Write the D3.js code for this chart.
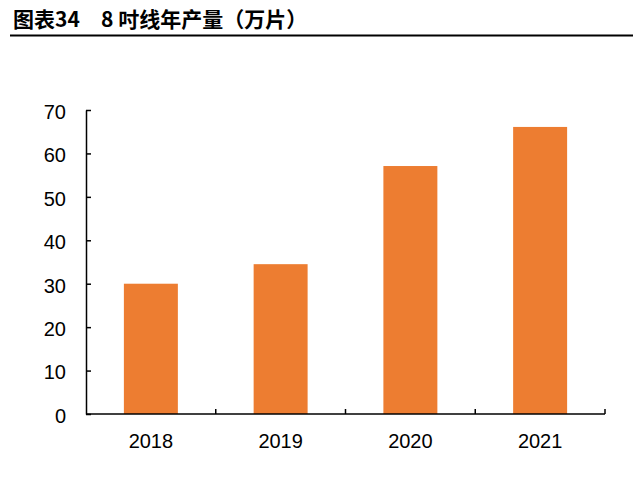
<!DOCTYPE html>
<html>
<head>
<meta charset="utf-8">
<script src="https://d3js.org/d3.v7.min.js"></script>
<style>
  body { margin: 0; background: #fff; }
  text { font-family: "Liberation Sans", Arial, sans-serif; }
</style>
</head>
<body>
<script>
  const years = ["2018", "2019", "2020", "2021"];
  const output = [30, 34.5, 57.1, 66.1];
  const yTicks = [0, 10, 20, 30, 40, 50, 60, 70];

  const width = 640, height = 495;
  const margin = {top: 110, right: 35, bottom: 81, left: 86};

  const svg = d3.select("body").append("svg")
    .attr("width", width)
    .attr("height", height);

  // title
  svg.append("text")
    .attr("x", 13).attr("y", 27)
    .style("font-family", "'Noto Sans CJK SC', sans-serif")
    .style("font-weight", "bold")
    .style("font-size", "21px")
    .text("图表34");
  svg.append("text")
    .attr("x", 101).attr("y", 27)
    .style("font-family", "'Noto Sans CJK SC', sans-serif")
    .style("font-weight", "bold")
    .style("font-size", "21px")
    .text("8 吋线年产量（万片）");
  svg.append("line")
    .attr("x1", 10).attr("x2", 633)
    .attr("y1", 35.5).attr("y2", 35.5)
    .attr("stroke", "#000").attr("stroke-width", 2);

  const x = d3.scaleBand()
    .domain(years)
    .range([margin.left, width - margin.right])
    .paddingInner(0.584)
    .paddingOuter(0.292);

  const y = d3.scaleLinear()
    .domain([0, 70])
    .range([height - margin.bottom, margin.top]);

  svg.selectAll("rect.bar")
    .data(years)
    .join("rect")
    .attr("class", "bar")
    .attr("x", d => x(d))
    .attr("width", x.bandwidth())
    .attr("y", (d, i) => y(output[i]))
    .attr("height", (d, i) => y(0) - y(output[i]))
    .attr("fill", "#ED7D31");

  // y axis, ticks pointing inward
  const yAxis = svg.append("g")
    .attr("transform", `translate(${margin.left},0)`)
    .call(d3.axisRight(y).tickValues(yTicks).tickSize(5).tickSizeOuter(0));
  yAxis.select(".domain").attr("stroke", "#000").attr("stroke-width", 1.5);
  yAxis.selectAll(".tick line").attr("stroke", "#000").attr("stroke-width", 1.5);
  yAxis.selectAll(".tick text")
    .attr("x", -20)
    .attr("dy", "0.42em")
    .attr("text-anchor", "end")
    .attr("fill", "#000")
    .style("font-family", "'Liberation Sans', Arial, sans-serif")
    .style("font-size", "20px");

  // x axis with ticks at band edges
  const xAxis = svg.append("g")
    .attr("transform", `translate(0,${y(0)})`);
  xAxis.append("line")
    .attr("x1", margin.left).attr("x2", width - margin.right)
    .attr("stroke", "#000").attr("stroke-width", 1.5);
  const step = x.step();
  const edges = years.map(d => x(d) - x.paddingOuter() * step).concat([width - margin.right]);
  xAxis.selectAll("line.edge")
    .data(edges.slice(1))
    .join("line")
    .attr("class", "edge")
    .attr("x1", d => d).attr("x2", d => d)
    .attr("y1", 0).attr("y2", -5)
    .attr("stroke", "#000").attr("stroke-width", 1.5);
  xAxis.selectAll("text")
    .data(years)
    .join("text")
    .attr("x", d => x(d) + x.bandwidth() / 2)
    .attr("y", 33.5)
    .attr("text-anchor", "middle")
    .style("font-size", "20px")
    .text(d => d);
</script>
</body>
</html>
